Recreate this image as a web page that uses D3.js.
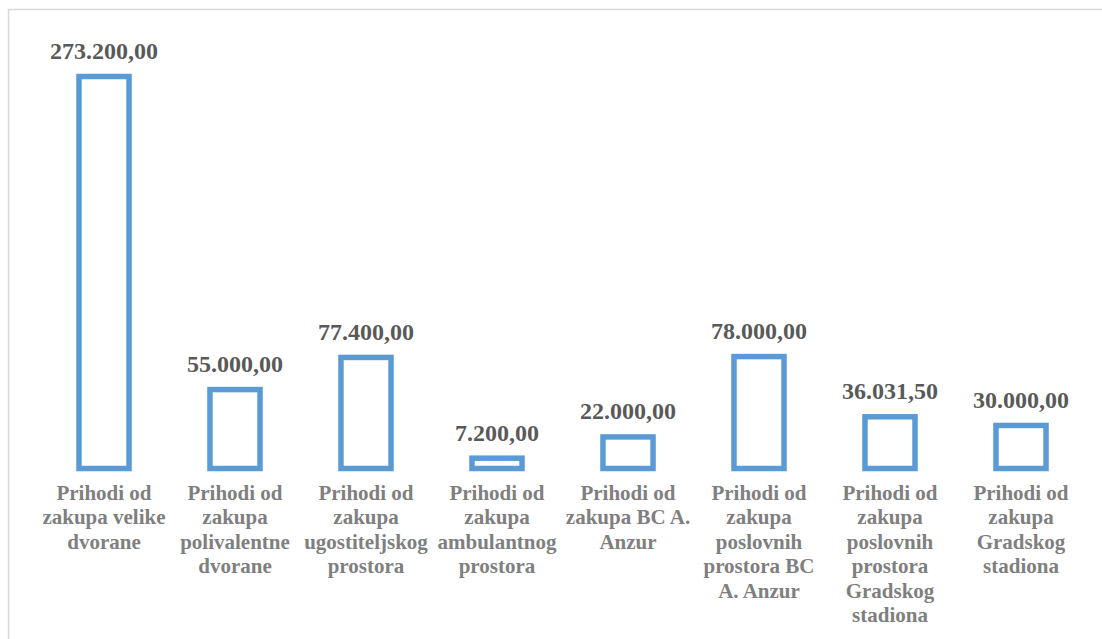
<!DOCTYPE html>
<html>
<head>
<meta charset="utf-8">
<script src="https://cdn.jsdelivr.net/npm/d3@7"></script>
<style>
  html, body { margin: 0; padding: 0; background: #ffffff; }
  svg { display: block; }
</style>
</head>
<body>
<svg id="chart" width="1102" height="639"></svg>
<script>
const categories = [
  "Prihodi od zakupa velike dvorane",
  "Prihodi od zakupa polivalentne dvorane",
  "Prihodi od zakupa ugostiteljskog prostora",
  "Prihodi od zakupa ambulantnog prostora",
  "Prihodi od zakupa BC A. Anzur",
  "Prihodi od zakupa poslovnih prostora BC A. Anzur",
  "Prihodi od zakupa poslovnih prostora Gradskog stadiona",
  "Prihodi od zakupa Gradskog stadiona"
];
const values = [273200, 55000, 77400, 7200, 22000, 78000, 36031.5, 30000];
const valueLabels = ["273.200,00", "55.000,00", "77.400,00", "7.200,00", "22.000,00", "78.000,00", "36.031,50", "30.000,00"];

const svg = d3.select("#chart");
const W = 1102, H = 639;

// outer chart border
svg.append("rect")
  .attr("x", 8.5).attr("y", 9.5)
  .attr("width", W + 20).attr("height", H + 20)
  .attr("fill", "#ffffff")
  .attr("stroke", "#d9d9d9")
  .attr("stroke-width", 1.5);

const x = d3.scaleBand()
  .domain(categories)
  .range([38.5, 1086.5])
  .padding(0);

const barW = x.bandwidth() * 0.382;
const baseY = 468.5;
const y = d3.scaleLinear()
  .domain([0, 273200])
  .range([baseY, 76.5]);

const g = svg.append("g");

g.selectAll("rect.bar")
  .data(values)
  .join("rect")
  .attr("class", "bar")
  .attr("x", (d, i) => x(categories[i]) + (x.bandwidth() - barW) / 2)
  .attr("y", d => y(d))
  .attr("width", barW)
  .attr("height", d => baseY - y(d))
  .attr("fill", "#ffffff")
  .attr("stroke", "#5b9bd5")
  .attr("stroke-width", 5.5);

g.selectAll("text.val")
  .data(values)
  .join("text")
  .attr("class", "val")
  .attr("x", (d, i) => x(categories[i]) + x.bandwidth() / 2)
  .attr("y", d => y(d) - 17.5)
  .attr("text-anchor", "middle")
  .attr("font-family", "'Liberation Serif', 'Times New Roman', serif")
  .attr("font-weight", "bold")
  .attr("font-size", "24px")
  .attr("fill", "#595959")
  .text((d, i) => valueLabels[i]);

// category labels with word wrapping
const maxW = x.bandwidth();
const lineH = 24.4;
categories.forEach((c, i) => {
  const t = g.append("text")
    .attr("x", x(c) + x.bandwidth() / 2)
    .attr("y", 500)
    .attr("text-anchor", "middle")
    .attr("font-family", "'Liberation Serif', 'Times New Roman', serif")
    .attr("font-weight", "bold")
    .attr("font-size", "21px")
    .attr("fill", "#7f7f7f");
  const words = c.split(" ");
  let line = [];
  let ts = t.append("tspan").attr("x", x(c) + x.bandwidth() / 2).attr("dy", 0);
  words.forEach(w => {
    line.push(w);
    ts.text(line.join(" "));
    if (ts.node().getComputedTextLength() > maxW && line.length > 1) {
      line.pop();
      ts.text(line.join(" "));
      line = [w];
      ts = t.append("tspan").attr("x", x(c) + x.bandwidth() / 2).attr("dy", lineH).text(w);
    }
  });
});
</script>
</body>
</html>
